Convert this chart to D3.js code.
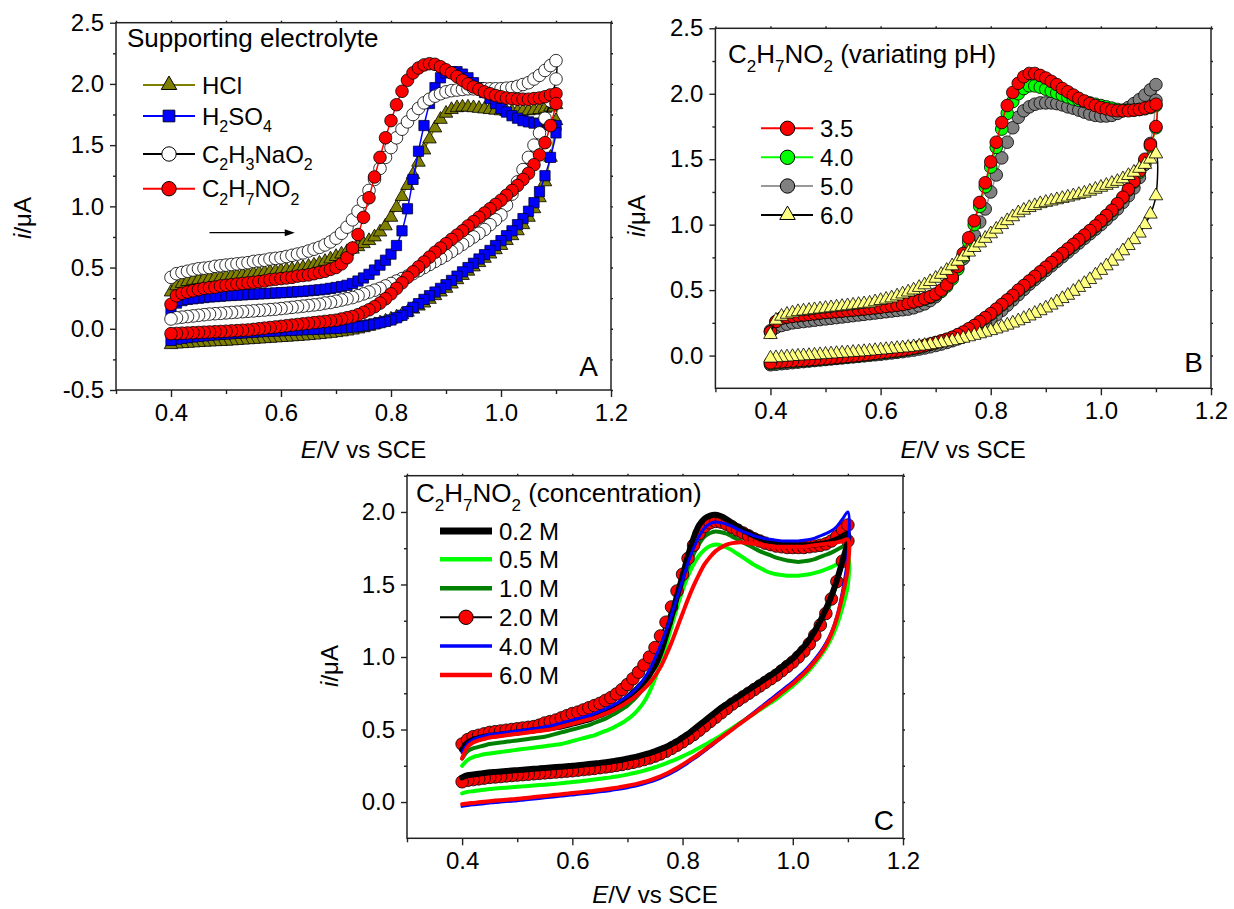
<!DOCTYPE html>
<html>
<head>
<meta charset="utf-8">
<title>Cyclic voltammograms</title>
<script src="https://cdn.jsdelivr.net/npm/d3@7"></script>
<style>
  body { margin: 0; background: #fff; }
  svg { display: block; font-family: "Liberation Sans", Arial, sans-serif; }
</style>
</head>
<body>
<div id="chart"></div>
<script>
// potential grid of every scan, V vs SCE (forward 0.4 -> 1.1, reverse 1.1 -> 0.4)
var potentials = [
  0.40, 0.41, 0.42, 0.43, 0.44, 0.45, 0.46, 0.47, 0.48, 0.49,
  0.50, 0.51, 0.52, 0.53, 0.54, 0.55, 0.56, 0.57, 0.58, 0.59,
  0.60, 0.61, 0.62, 0.63, 0.64, 0.65, 0.66, 0.67, 0.68, 0.69,
  0.70, 0.71, 0.72, 0.73, 0.74, 0.75, 0.76, 0.77, 0.78, 0.79,
  0.80, 0.81, 0.82, 0.83, 0.84, 0.85, 0.86, 0.87, 0.88, 0.89,
  0.90, 0.91, 0.92, 0.93, 0.94, 0.95, 0.96, 0.97, 0.98, 0.99,
  1.00, 1.01, 1.02, 1.03, 1.04, 1.05, 1.06, 1.07, 1.08, 1.09,
  1.10];

var xMajorTicks = [0.4, 0.6, 0.8, 1.0, 1.2];
var xMinorTicks = [0.3, 0.5, 0.7, 0.9, 1.1];
var yMajorA = [-0.5, 0.0, 0.5, 1.0, 1.5, 2.0, 2.5];
var yMajorB = [0.0, 0.5, 1.0, 1.5, 2.0, 2.5];
var yMajorC = [0.0, 0.5, 1.0, 1.5, 2.0];
var yMinorTicks = [-0.25, 0.25, 0.75, 1.25, 1.75, 2.25];

var electrolyteLabels = ["HCl", "H2SO4", "C2H3NaO2", "C2H7NO2"];
var phLabels = ["3.5", "4.0", "5.0", "6.0"];
var concLabels = ["0.2 M", "0.5 M", "1.0 M", "2.0 M", "4.0 M", "6.0 M"];

// ---- panel A: supporting electrolyte (i / uA) ----
var hclForward = [
  0.30, 0.35, 0.37, 0.385, 0.395, 0.40, 0.405, 0.41, 0.415, 0.42,
  0.425, 0.43, 0.435, 0.44, 0.445, 0.45, 0.455, 0.46, 0.465, 0.47,
  0.475, 0.48, 0.485, 0.49, 0.50, 0.51, 0.52, 0.535, 0.55, 0.57,
  0.59, 0.61, 0.63, 0.65, 0.67, 0.695, 0.72, 0.75, 0.79, 0.84,
  0.91, 0.99, 1.08, 1.17, 1.26, 1.36, 1.46, 1.55, 1.64, 1.71,
  1.76, 1.79, 1.805, 1.81, 1.81, 1.805, 1.80, 1.795, 1.79, 1.785,
  1.78, 1.775, 1.775, 1.775, 1.78, 1.78, 1.785, 1.79, 1.80, 1.81,
  1.83];
var hclReverse = [
  -0.13, -0.125, -0.122, -0.119, -0.116, -0.113, -0.11, -0.108, -0.106, -0.104,
  -0.102, -0.099, -0.096, -0.093, -0.09, -0.087, -0.084, -0.081, -0.078, -0.075,
  -0.072, -0.069, -0.066, -0.063, -0.06, -0.056, -0.052, -0.048, -0.043, -0.038,
  -0.032, -0.026, -0.019, -0.011, -0.002, 0.008, 0.02, 0.033, 0.047, 0.062,
  0.078, 0.095, 0.115, 0.135, 0.16, 0.185, 0.21, 0.24, 0.27, 0.30,
  0.33, 0.365, 0.40, 0.435, 0.47, 0.505, 0.54, 0.575, 0.61, 0.645,
  0.68, 0.72, 0.76, 0.80, 0.85, 0.91, 0.98, 1.07, 1.20, 1.40,
  1.70];
var h2so4Forward = [
  0.15, 0.21, 0.23, 0.24, 0.245, 0.25, 0.255, 0.26, 0.263, 0.266,
  0.27, 0.272, 0.275, 0.277, 0.28, 0.282, 0.285, 0.287, 0.29, 0.292,
  0.295, 0.297, 0.30, 0.303, 0.306, 0.31, 0.314, 0.318, 0.323, 0.33,
  0.337, 0.345, 0.355, 0.37, 0.39, 0.415, 0.445, 0.48, 0.52, 0.56,
  0.61, 0.68, 0.80, 0.98, 1.22, 1.45, 1.66, 1.84, 1.97, 2.05,
  2.09, 2.10, 2.10, 2.08, 2.05, 2.01, 1.97, 1.93, 1.88, 1.84,
  1.80, 1.77, 1.74, 1.72, 1.70, 1.69, 1.68, 1.675, 1.67, 1.665,
  1.66];
var h2so4Reverse = [
  -0.095, -0.085, -0.078, -0.072, -0.067, -0.062, -0.058, -0.054, -0.05, -0.046,
  -0.043, -0.04, -0.037, -0.034, -0.031, -0.028, -0.025, -0.022, -0.02, -0.018,
  -0.016, -0.014, -0.012, -0.01, -0.008, -0.006, -0.004, -0.002, 0.0, 0.002,
  0.004, 0.007, 0.01, 0.014, 0.019, 0.025, 0.032, 0.04, 0.05, 0.06,
  0.072, 0.09, 0.11, 0.14, 0.175, 0.205, 0.24, 0.27, 0.30, 0.33,
  0.36, 0.395, 0.43, 0.465, 0.50, 0.535, 0.57, 0.605, 0.64, 0.68,
  0.72, 0.76, 0.80, 0.85, 0.90, 0.96, 1.03, 1.12, 1.25, 1.40,
  1.60];
var naAcForward = [
  0.42, 0.45, 0.46, 0.47, 0.48, 0.49, 0.495, 0.50, 0.51, 0.515,
  0.52, 0.525, 0.53, 0.535, 0.54, 0.55, 0.555, 0.56, 0.57, 0.575,
  0.58, 0.59, 0.60, 0.61, 0.62, 0.635, 0.65, 0.665, 0.685, 0.71,
  0.74, 0.78, 0.83, 0.89, 0.96, 1.04, 1.13, 1.22, 1.31, 1.40,
  1.48, 1.56, 1.63, 1.69, 1.75, 1.80, 1.845, 1.875, 1.90, 1.92,
  1.935, 1.945, 1.95, 1.955, 1.96, 1.96, 1.96, 1.96, 1.96, 1.96,
  1.96, 1.965, 1.97, 1.98, 1.995, 2.01, 2.04, 2.07, 2.11, 2.15,
  2.19];
var naAcReverse = [
  0.08, 0.09, 0.095, 0.10, 0.105, 0.11, 0.115, 0.12, 0.123, 0.126,
  0.13, 0.133, 0.136, 0.14, 0.143, 0.146, 0.15, 0.153, 0.157, 0.16,
  0.165, 0.17, 0.175, 0.18, 0.185, 0.19, 0.195, 0.20, 0.21, 0.215,
  0.225, 0.235, 0.245, 0.255, 0.27, 0.285, 0.30, 0.315, 0.33, 0.35,
  0.37, 0.39, 0.41, 0.43, 0.45, 0.475, 0.50, 0.525, 0.55, 0.575,
  0.60, 0.63, 0.66, 0.69, 0.72, 0.75, 0.78, 0.81, 0.85, 0.89,
  0.93, 1.01, 1.10, 1.20, 1.30, 1.40, 1.50, 1.60, 1.72, 1.86,
  2.04];
var nh4AcForward = [
  0.20, 0.27, 0.29, 0.30, 0.31, 0.32, 0.33, 0.335, 0.34, 0.35,
  0.355, 0.36, 0.365, 0.37, 0.375, 0.38, 0.385, 0.39, 0.40, 0.405,
  0.41, 0.415, 0.42, 0.43, 0.435, 0.44, 0.45, 0.46, 0.47, 0.485,
  0.50, 0.53, 0.58, 0.66, 0.77, 0.91, 1.07, 1.24, 1.40, 1.56,
  1.70, 1.83, 1.94, 2.03, 2.09, 2.13, 2.155, 2.165, 2.16, 2.14,
  2.115, 2.09, 2.06, 2.03, 2.00, 1.975, 1.955, 1.935, 1.92, 1.905,
  1.895, 1.885, 1.88, 1.875, 1.875, 1.875, 1.88, 1.885, 1.895, 1.91,
  1.92];
var nh4AcReverse = [
  -0.04, -0.038, -0.036, -0.034, -0.032, -0.03, -0.028, -0.026, -0.024, -0.022,
  -0.02, -0.017, -0.015, -0.012, -0.01, -0.005, 0.0, 0.005, 0.01, 0.015,
  0.02, 0.025, 0.03, 0.035, 0.04, 0.045, 0.05, 0.055, 0.06, 0.065,
  0.07, 0.08, 0.09, 0.10, 0.115, 0.135, 0.155, 0.18, 0.21, 0.245,
  0.285, 0.33, 0.375, 0.42, 0.465, 0.505, 0.545, 0.585, 0.625, 0.66,
  0.695, 0.73, 0.765, 0.80, 0.84, 0.875, 0.91, 0.945, 0.98, 1.015,
  1.05, 1.09, 1.13, 1.17, 1.22, 1.27, 1.34, 1.42, 1.52, 1.66,
  1.84];

// ---- panel B: C2H7NO2 at different pH ----
var ph35Forward = [
  0.18, 0.26, 0.285, 0.295, 0.30, 0.305, 0.31, 0.315, 0.32, 0.325,
  0.33, 0.333, 0.336, 0.34, 0.344, 0.348, 0.352, 0.356, 0.36, 0.365,
  0.37, 0.375, 0.38, 0.385, 0.39, 0.40, 0.41, 0.42, 0.435, 0.45,
  0.47, 0.50, 0.54, 0.60, 0.68, 0.78, 0.90, 1.03, 1.17, 1.32,
  1.48, 1.63, 1.78, 1.91, 2.01, 2.08, 2.13, 2.155, 2.155, 2.14,
  2.12, 2.095, 2.07, 2.04, 2.015, 1.99, 1.965, 1.945, 1.925, 1.91,
  1.895, 1.885, 1.875, 1.87, 1.87, 1.87, 1.875, 1.88, 1.89, 1.90,
  1.92];
var ph35Reverse = [
  -0.055, -0.05, -0.047, -0.044, -0.041, -0.038, -0.035, -0.032, -0.029, -0.025,
  -0.022, -0.018, -0.014, -0.01, -0.006, -0.002, 0.002, 0.007, 0.012, 0.017,
  0.022, 0.027, 0.032, 0.037, 0.043, 0.05, 0.058, 0.067, 0.077, 0.088,
  0.10, 0.112, 0.125, 0.14, 0.16, 0.18, 0.205, 0.23, 0.26, 0.29,
  0.32, 0.355, 0.39, 0.425, 0.46, 0.50, 0.535, 0.57, 0.605, 0.64,
  0.675, 0.71, 0.745, 0.78, 0.815, 0.85, 0.885, 0.92, 0.955, 0.99,
  1.03, 1.07, 1.11, 1.16, 1.21, 1.27, 1.33, 1.41, 1.50, 1.61,
  1.75];
var ph40Forward = [
  0.18, 0.26, 0.285, 0.295, 0.30, 0.305, 0.31, 0.315, 0.32, 0.325,
  0.33, 0.333, 0.336, 0.34, 0.344, 0.348, 0.352, 0.356, 0.36, 0.365,
  0.37, 0.375, 0.38, 0.385, 0.39, 0.40, 0.41, 0.42, 0.43, 0.445,
  0.465, 0.49, 0.53, 0.585, 0.66, 0.76, 0.87, 1.00, 1.14, 1.29,
  1.44, 1.59, 1.73, 1.85, 1.94, 2.00, 2.04, 2.06, 2.06, 2.05,
  2.035, 2.02, 2.005, 1.99, 1.975, 1.96, 1.95, 1.94, 1.93, 1.92,
  1.91, 1.90, 1.89, 1.88, 1.875, 1.875, 1.875, 1.88, 1.885, 1.895,
  1.91];
var ph40Reverse = [
  -0.06, -0.055, -0.051, -0.048, -0.045, -0.042, -0.039, -0.036, -0.032, -0.028,
  -0.025, -0.021, -0.017, -0.013, -0.009, -0.005, -0.001, 0.004, 0.009, 0.014,
  0.019, 0.024, 0.029, 0.034, 0.04, 0.047, 0.055, 0.064, 0.074, 0.085,
  0.097, 0.109, 0.122, 0.137, 0.156, 0.176, 0.20, 0.225, 0.255, 0.285,
  0.315, 0.35, 0.385, 0.42, 0.455, 0.495, 0.53, 0.565, 0.60, 0.635,
  0.67, 0.705, 0.74, 0.775, 0.81, 0.845, 0.88, 0.915, 0.95, 0.985,
  1.025, 1.065, 1.105, 1.155, 1.205, 1.265, 1.325, 1.40, 1.49, 1.60,
  1.74];
var ph50Forward = [
  0.19, 0.215, 0.23, 0.24, 0.25, 0.255, 0.26, 0.265, 0.27, 0.275,
  0.28, 0.285, 0.29, 0.295, 0.30, 0.305, 0.31, 0.315, 0.32, 0.325,
  0.33, 0.335, 0.34, 0.345, 0.35, 0.355, 0.365, 0.38, 0.395, 0.42,
  0.45, 0.49, 0.54, 0.60, 0.665, 0.74, 0.82, 0.92, 1.02, 1.12,
  1.25, 1.38, 1.51, 1.63, 1.74, 1.82, 1.87, 1.90, 1.92, 1.93,
  1.93, 1.93, 1.925, 1.915, 1.90, 1.89, 1.875, 1.86, 1.845, 1.835,
  1.83, 1.83, 1.835, 1.85, 1.87, 1.895, 1.925, 1.955, 1.99, 2.03,
  2.07];
var ph50Reverse = [
  -0.07, -0.066, -0.062, -0.058, -0.054, -0.05, -0.046, -0.042, -0.038, -0.034,
  -0.03, -0.026, -0.022, -0.018, -0.014, -0.01, -0.006, -0.002, 0.002, 0.006,
  0.01, 0.015, 0.02, 0.025, 0.03, 0.036, 0.042, 0.05, 0.058, 0.067,
  0.077, 0.088, 0.10, 0.113, 0.128, 0.145, 0.165, 0.19, 0.215, 0.245,
  0.275, 0.31, 0.345, 0.385, 0.425, 0.465, 0.505, 0.545, 0.58, 0.615,
  0.65, 0.685, 0.72, 0.755, 0.79, 0.825, 0.86, 0.895, 0.93, 0.965,
  1.00, 1.04, 1.08, 1.12, 1.17, 1.22, 1.28, 1.36, 1.46, 1.62,
  1.95];
var ph60Forward = [
  0.16, 0.27, 0.30, 0.315, 0.325, 0.335, 0.34, 0.345, 0.35, 0.355,
  0.36, 0.365, 0.37, 0.375, 0.38, 0.385, 0.39, 0.395, 0.40, 0.41,
  0.42, 0.43, 0.44, 0.455, 0.47, 0.485, 0.50, 0.52, 0.54, 0.565,
  0.59, 0.62, 0.65, 0.685, 0.72, 0.755, 0.79, 0.825, 0.86, 0.895,
  0.93, 0.965, 1.00, 1.03, 1.06, 1.09, 1.11, 1.13, 1.145, 1.16,
  1.17, 1.18, 1.19, 1.20, 1.21, 1.22, 1.23, 1.24, 1.255, 1.27,
  1.285, 1.30, 1.315, 1.33, 1.35, 1.375, 1.40, 1.43, 1.46, 1.50,
  1.54];
var ph60Reverse = [
  -0.02, -0.017, -0.014, -0.011, -0.008, -0.005, -0.002, 0.0, 0.003, 0.006,
  0.009, 0.012, 0.015, 0.018, 0.021, 0.024, 0.027, 0.03, 0.034, 0.038,
  0.042, 0.046, 0.05, 0.054, 0.058, 0.062, 0.067, 0.072, 0.077, 0.083,
  0.09, 0.097, 0.105, 0.113, 0.122, 0.132, 0.143, 0.154, 0.166, 0.178,
  0.19, 0.203, 0.217, 0.232, 0.248, 0.265, 0.283, 0.302, 0.322, 0.342,
  0.363, 0.385, 0.41, 0.435, 0.46, 0.49, 0.52, 0.55, 0.58, 0.615,
  0.65, 0.685, 0.72, 0.76, 0.80, 0.84, 0.885, 0.935, 1.00, 1.08,
  1.22];

// ---- panel C: C2H7NO2 concentration ----
var c02Forward = [
  0.36, 0.41, 0.43, 0.44, 0.45, 0.455, 0.46, 0.465, 0.47, 0.475,
  0.48, 0.485, 0.49, 0.495, 0.50, 0.505, 0.51, 0.515, 0.52, 0.53,
  0.54, 0.55, 0.56, 0.57, 0.585, 0.60, 0.615, 0.635, 0.66, 0.69,
  0.72, 0.755, 0.79, 0.83, 0.88, 0.94, 1.03, 1.15, 1.28, 1.42,
  1.56, 1.70, 1.82, 1.91, 1.955, 1.975, 1.98, 1.97, 1.95, 1.925,
  1.90, 1.875, 1.855, 1.835, 1.82, 1.805, 1.795, 1.785, 1.78, 1.775,
  1.77, 1.77, 1.77, 1.77, 1.775, 1.78, 1.785, 1.795, 1.81, 1.83,
  1.85];
var c02Reverse = [
  0.17, 0.185, 0.19, 0.195, 0.20, 0.205, 0.208, 0.211, 0.214, 0.217,
  0.22, 0.223, 0.226, 0.229, 0.232, 0.235, 0.238, 0.241, 0.244, 0.247,
  0.25, 0.254, 0.258, 0.262, 0.266, 0.27, 0.275, 0.28, 0.286, 0.292,
  0.30, 0.308, 0.317, 0.327, 0.338, 0.35, 0.365, 0.38, 0.40, 0.42,
  0.445, 0.47, 0.50, 0.53, 0.56, 0.59, 0.62, 0.65, 0.675, 0.70,
  0.725, 0.75, 0.775, 0.80, 0.825, 0.85, 0.875, 0.90, 0.93, 0.96,
  0.99, 1.03, 1.07, 1.12, 1.18, 1.25, 1.33, 1.42, 1.53, 1.66,
  1.80];
var c05Forward = [
  0.25, 0.29, 0.31, 0.32, 0.33, 0.335, 0.34, 0.345, 0.35, 0.355,
  0.36, 0.365, 0.37, 0.375, 0.38, 0.385, 0.39, 0.395, 0.40, 0.41,
  0.42, 0.43, 0.44, 0.45, 0.46, 0.475, 0.49, 0.505, 0.525, 0.545,
  0.57, 0.60, 0.64, 0.69, 0.76, 0.85, 0.96, 1.08, 1.21, 1.34,
  1.46, 1.56, 1.64, 1.70, 1.74, 1.765, 1.775, 1.77, 1.755, 1.735,
  1.71, 1.685, 1.66, 1.635, 1.615, 1.595, 1.58, 1.57, 1.565, 1.56,
  1.56, 1.56, 1.565, 1.57, 1.58, 1.59, 1.605, 1.62, 1.64, 1.665,
  1.69];
var c05Reverse = [
  0.06, 0.07, 0.075, 0.08, 0.085, 0.09, 0.093, 0.096, 0.099, 0.102,
  0.105, 0.108, 0.111, 0.114, 0.117, 0.12, 0.123, 0.126, 0.13, 0.134,
  0.138, 0.142, 0.146, 0.15, 0.155, 0.16, 0.165, 0.17, 0.176, 0.182,
  0.19, 0.198, 0.207, 0.217, 0.228, 0.24, 0.253, 0.267, 0.282, 0.298,
  0.315, 0.333, 0.352, 0.372, 0.393, 0.415, 0.437, 0.46, 0.485, 0.51,
  0.535, 0.56, 0.585, 0.61, 0.635, 0.66, 0.685, 0.71, 0.74, 0.77,
  0.80, 0.835, 0.87, 0.91, 0.955, 1.005, 1.06, 1.13, 1.22, 1.34,
  1.50];
var c10Forward = [
  0.30, 0.35, 0.37, 0.38, 0.39, 0.40, 0.405, 0.41, 0.415, 0.42,
  0.425, 0.43, 0.435, 0.44, 0.445, 0.45, 0.46, 0.47, 0.48, 0.49,
  0.50, 0.51, 0.52, 0.53, 0.545, 0.56, 0.575, 0.595, 0.615, 0.64,
  0.665, 0.70, 0.74, 0.79, 0.86, 0.95, 1.05, 1.16, 1.28, 1.40,
  1.51, 1.62, 1.71, 1.78, 1.83, 1.855, 1.865, 1.86, 1.85, 1.83,
  1.81, 1.79, 1.77, 1.75, 1.73, 1.715, 1.70, 1.685, 1.675, 1.665,
  1.66, 1.655, 1.66, 1.665, 1.675, 1.69, 1.705, 1.72, 1.74, 1.76,
  1.78];
var c10Reverse = [
  0.13, 0.14, 0.145, 0.15, 0.155, 0.16, 0.163, 0.166, 0.17, 0.173,
  0.176, 0.179, 0.182, 0.185, 0.188, 0.191, 0.194, 0.197, 0.20, 0.203,
  0.206, 0.21, 0.214, 0.218, 0.222, 0.227, 0.232, 0.237, 0.243, 0.249,
  0.256, 0.264, 0.273, 0.283, 0.294, 0.307, 0.322, 0.34, 0.36, 0.382,
  0.405, 0.43, 0.455, 0.485, 0.515, 0.545, 0.575, 0.605, 0.635, 0.665,
  0.69, 0.715, 0.74, 0.765, 0.79, 0.815, 0.84, 0.865, 0.895, 0.925,
  0.955, 0.99, 1.03, 1.08, 1.14, 1.21, 1.29, 1.39, 1.51, 1.64,
  1.78];
var c20Forward = [
  0.40, 0.43, 0.45, 0.46, 0.47, 0.48, 0.485, 0.49, 0.495, 0.50,
  0.505, 0.51, 0.515, 0.52, 0.53, 0.545, 0.555, 0.565, 0.58, 0.595,
  0.61, 0.62, 0.635, 0.65, 0.665, 0.68, 0.70, 0.72, 0.745, 0.775,
  0.81, 0.85, 0.895, 0.945, 1.00, 1.065, 1.145, 1.24, 1.345, 1.455,
  1.57, 1.68, 1.77, 1.85, 1.90, 1.925, 1.935, 1.93, 1.915, 1.895,
  1.875, 1.855, 1.835, 1.815, 1.80, 1.785, 1.775, 1.765, 1.76, 1.755,
  1.755, 1.755, 1.755, 1.76, 1.765, 1.77, 1.78, 1.80, 1.83, 1.88,
  1.91];
var c20Reverse = [
  0.14, 0.15, 0.155, 0.16, 0.165, 0.17, 0.173, 0.176, 0.18, 0.183,
  0.186, 0.189, 0.192, 0.195, 0.198, 0.201, 0.204, 0.207, 0.21, 0.213,
  0.216, 0.22, 0.224, 0.228, 0.232, 0.237, 0.242, 0.247, 0.253, 0.259,
  0.266, 0.274, 0.283, 0.293, 0.304, 0.317, 0.332, 0.35, 0.37, 0.392,
  0.415, 0.44, 0.465, 0.495, 0.525, 0.555, 0.585, 0.615, 0.645, 0.675,
  0.70, 0.725, 0.75, 0.775, 0.80, 0.825, 0.85, 0.875, 0.905, 0.935,
  0.965, 1.00, 1.04, 1.09, 1.15, 1.22, 1.30, 1.40, 1.52, 1.66,
  1.80];
var c40Forward = [
  0.34, 0.40, 0.43, 0.445, 0.455, 0.465, 0.47, 0.475, 0.48, 0.485,
  0.49, 0.495, 0.50, 0.505, 0.51, 0.52, 0.525, 0.535, 0.545, 0.555,
  0.565, 0.575, 0.585, 0.595, 0.61, 0.625, 0.64, 0.66, 0.68, 0.705,
  0.73, 0.76, 0.80, 0.85, 0.91, 0.99, 1.08, 1.18, 1.29, 1.41,
  1.53, 1.65, 1.75, 1.83, 1.89, 1.92, 1.93, 1.925, 1.915, 1.90,
  1.88, 1.865, 1.85, 1.835, 1.825, 1.815, 1.81, 1.805, 1.80, 1.80,
  1.80, 1.80, 1.805, 1.81, 1.82, 1.835, 1.85, 1.87, 1.90, 1.95,
  2.00];
var c40Reverse = [
  -0.03, -0.024, -0.019, -0.015, -0.011, -0.007, -0.003, 0.0, 0.003, 0.006,
  0.009, 0.013, 0.017, 0.021, 0.025, 0.029, 0.033, 0.037, 0.041, 0.045,
  0.049, 0.053, 0.057, 0.061, 0.065, 0.07, 0.075, 0.08, 0.086, 0.092,
  0.099, 0.107, 0.116, 0.126, 0.137, 0.15, 0.165, 0.182, 0.201, 0.222,
  0.245, 0.27, 0.296, 0.323, 0.351, 0.38, 0.41, 0.44, 0.47, 0.50,
  0.53, 0.56, 0.59, 0.62, 0.65, 0.68, 0.71, 0.74, 0.77, 0.80,
  0.83, 0.865, 0.90, 0.94, 0.985, 1.035, 1.095, 1.17, 1.28, 1.45,
  1.70];
var c60Forward = [
  0.30, 0.38, 0.41, 0.425, 0.435, 0.445, 0.45, 0.455, 0.46, 0.465,
  0.47, 0.475, 0.48, 0.485, 0.49, 0.495, 0.50, 0.51, 0.52, 0.53,
  0.54, 0.55, 0.56, 0.57, 0.58, 0.595, 0.61, 0.625, 0.645, 0.665,
  0.69, 0.715, 0.745, 0.78, 0.82, 0.87, 0.93, 1.01, 1.10, 1.20,
  1.30, 1.40, 1.49, 1.57, 1.64, 1.69, 1.73, 1.755, 1.775, 1.785,
  1.79, 1.79, 1.785, 1.78, 1.775, 1.77, 1.765, 1.76, 1.76, 1.76,
  1.76, 1.76, 1.76, 1.765, 1.77, 1.775, 1.78, 1.785, 1.79, 1.80,
  1.81];
var c60Reverse = [
  -0.015, -0.01, -0.006, -0.002, 0.002, 0.006, 0.01, 0.013, 0.016, 0.019,
  0.022, 0.026, 0.03, 0.034, 0.038, 0.042, 0.046, 0.05, 0.054, 0.058,
  0.062, 0.066, 0.07, 0.074, 0.078, 0.083, 0.088, 0.093, 0.099, 0.105,
  0.112, 0.12, 0.129, 0.139, 0.15, 0.163, 0.178, 0.195, 0.214, 0.235,
  0.258, 0.282, 0.307, 0.333, 0.36, 0.388, 0.416, 0.444, 0.472, 0.50,
  0.528, 0.556, 0.584, 0.612, 0.64, 0.668, 0.696, 0.725, 0.755, 0.785,
  0.815, 0.85, 0.885, 0.925, 0.97, 1.02, 1.08, 1.16, 1.27, 1.42,
  1.62];

var W = 1234, H = 909;
var axisColor = "#222";
var tickFont = 24, labelFont = 24, titleFont = 26;
var svg = d3.select("#chart").append("svg").attr("width", W).attr("height", H);

var symbols = { circle: d3.symbolCircle, square: d3.symbolSquare, triangle: d3.symbolTriangle };

// chemical formulas get their digits as subscripts
function richText(sel, label, size) {
  var formula = /^[A-Z]/.test(label);
  var shifted = false;
  label.match(/\d+|\D+/g).forEach(function(part) {
    var t = sel.append("tspan").text(part);
    if (formula && /^\d/.test(part)) {
      t.attr("font-size", Math.round(size * 0.66)).attr("dy", size * 0.33);
      shifted = true;
    } else if (shifted) {
      t.attr("dy", -size * 0.33);
      shifted = false;
    }
  });
}

function drawPanel(p) {
  var g = svg.append("g");
  var x = d3.scaleLinear().domain([0.3, 1.2]).range([p.left, p.right]);
  var y = d3.scaleLinear().domain(p.yDomain).range([p.bottom, p.top]);

  function styleAxis(sel) {
    sel.select(".domain").remove();
    sel.selectAll(".tick line").attr("stroke", axisColor).attr("stroke-width", 1.4);
    sel.selectAll(".tick text").attr("fill", "#000").attr("font-size", tickFont)
      .attr("font-family", "Liberation Sans, Arial, sans-serif");
  }

  // bottom axis
  g.append("g").attr("transform", "translate(0," + p.bottom + ")")
    .call(d3.axisBottom(x).tickValues(xMajorTicks).tickSize(7).tickSizeOuter(0)
      .tickFormat(function(d) { return d.toFixed(1); }))
    .call(styleAxis)
    .call(function(s) { s.selectAll(".tick text").attr("y", 31).attr("dy", 0); });
  g.append("g").attr("transform", "translate(0," + p.bottom + ")")
    .call(d3.axisBottom(x).tickValues(xMinorTicks).tickSize(4).tickSizeOuter(0).tickFormat(""))
    .call(styleAxis);

  // left axis
  g.append("g").attr("transform", "translate(" + p.left + ",0)")
    .call(d3.axisLeft(y).tickValues(p.yMajor).tickSize(6).tickSizeOuter(0).tickPadding(6)
      .tickFormat(function(d) { return d.toFixed(1); }))
    .call(styleAxis);
  g.append("g").attr("transform", "translate(" + p.left + ",0)")
    .call(d3.axisLeft(y).tickValues(yMinorTicks.filter(function(v) { return v > p.yDomain[0]; }))
      .tickSize(3).tickSizeOuter(0).tickFormat(""))
    .call(styleAxis);

  // mirrored short ticks on top and right
  g.append("g").attr("transform", "translate(0," + p.top + ")")
    .call(d3.axisTop(x).tickValues(xMajorTicks.concat(xMinorTicks)).tickSize(2).tickSizeOuter(0).tickFormat(""))
    .call(styleAxis);
  g.append("g").attr("transform", "translate(" + p.right + ",0)")
    .call(d3.axisRight(y).tickValues(p.yMajor.concat(yMinorTicks)).tickSize(2).tickSizeOuter(0).tickFormat(""))
    .call(styleAxis);

  // data
  var line = d3.line().x(function(d) { return x(d[0]); }).y(function(d) { return y(d[1]); })
    .curve(d3.curveCatmullRom.alpha(0.5));

  p.series.forEach(function(s) {
    var fwd = potentials.map(function(e, k) { return [e, s.fwd[k]]; });
    var rev = potentials.map(function(e, k) { return [e, s.rev[k]]; }).reverse();
    var pts = fwd.concat(rev);
    g.append("path").datum(pts).attr("d", line)
      .attr("fill", "none").attr("stroke", s.stroke).attr("stroke-width", s.width)
      .attr("stroke-linejoin", "round").attr("stroke-linecap", "round");
    if (s.marker) {
      var sym = d3.symbol().type(symbols[s.marker]).size(s.size)();
      g.append("g").selectAll("path").data(pts).join("path")
        .attr("transform", function(d) { return "translate(" + x(d[0]) + "," + y(d[1]) + ")"; })
        .attr("d", sym).attr("fill", s.fill).attr("stroke", s.edge || "#000").attr("stroke-width", 0.8);
    }
  });

  // frame
  g.append("rect").attr("x", p.left).attr("y", p.top)
    .attr("width", p.right - p.left).attr("height", p.bottom - p.top)
    .attr("fill", "none").attr("stroke", axisColor).attr("stroke-width", 1.5);

  // title inside the frame
  var title = g.append("text").attr("x", p.titleX).attr("y", p.titleY).attr("font-size", titleFont).attr("fill", "#000");
  richText(title, p.title, titleFont);

  // legend
  var lg = p.legend;
  p.series.slice().sort(function(a, b) { return a.order - b.order; }).forEach(function(s, i) {
    var cy = lg.rows[i];
    g.append("line").attr("x1", lg.x0).attr("x2", lg.x1).attr("y1", cy).attr("y2", cy)
      .attr("stroke", s.stroke).attr("stroke-width", s.legendWidth || 2);
    if (s.marker) {
      g.append("path").attr("transform", "translate(" + lg.xm + "," + cy + ")")
        .attr("d", d3.symbol().type(symbols[s.marker]).size(s.size * 1.3)())
        .attr("fill", s.fill).attr("stroke", s.edge || "#000").attr("stroke-width", 1);
    }
    var t = g.append("text").attr("x", lg.xt).attr("y", cy + 8.5).attr("font-size", labelFont).attr("fill", "#000");
    richText(t, s.label, labelFont);
  });

  // panel letter
  g.append("text").attr("x", p.letterX).attr("y", p.letterY).attr("text-anchor", "end")
    .attr("font-size", 28).attr("fill", "#000").text(p.letter);

  // axis titles
  var xt = g.append("text").attr("x", (p.left + p.right) / 2).attr("y", p.xTitleY)
    .attr("text-anchor", "middle").attr("font-size", labelFont).attr("fill", "#000");
  xt.append("tspan").attr("font-style", "italic").text("E");
  xt.append("tspan").text("/V vs SCE");
  var yt = g.append("text").attr("transform", "translate(" + p.yTitleX + "," + p.yTitleY + ") rotate(-90)")
    .attr("text-anchor", "middle").attr("font-size", labelFont).attr("fill", "#000");
  yt.append("tspan").attr("font-style", "italic").text("i");
  yt.append("tspan").text("/\u03bcA");

  return { x: x, y: y, g: g };
}

var panelA = drawPanel({
  left: 116, right: 611, top: 22.7, bottom: 390, yDomain: [-0.5, 2.5], yMajor: yMajorA,
  title: "Supporting electrolyte", titleX: 127, titleY: 47,
  letter: "A", letterX: 598, letterY: 376, xTitleY: 458, yTitleX: 31, yTitleY: 218,
  legend: { rows: [85, 116, 154, 188.7], x0: 143, x1: 195, xm: 169, xt: 202 },
  series: [
    { order: 0, label: electrolyteLabels[0], fwd: hclForward, rev: hclReverse, stroke: "#808000", width: 1.5,
      marker: "triangle", size: 80, fill: "#808000" },
    { order: 1, label: electrolyteLabels[1], fwd: h2so4Forward, rev: h2so4Reverse, stroke: "#0000ff", width: 1.5,
      marker: "square", size: 105, fill: "#0000ff", edge: "#000033" },
    { order: 2, label: electrolyteLabels[2], fwd: naAcForward, rev: naAcReverse, stroke: "#000", width: 1.5,
      marker: "circle", size: 125, fill: "#fff" },
    { order: 3, label: electrolyteLabels[3], fwd: nh4AcForward, rev: nh4AcReverse, stroke: "#ff0000", width: 1.5,
      marker: "circle", size: 125, fill: "#ff0000" }
  ]
});

// direction of the forward scan
var ax = panelA.x, ay = panelA.y;
panelA.g.append("line").attr("x1", ax(0.47)).attr("x2", ax(0.618)).attr("y1", ay(0.785)).attr("y2", ay(0.785))
  .attr("stroke", "#000").attr("stroke-width", 1.3);
panelA.g.append("path")
  .attr("d", "M" + ax(0.625) + "," + ay(0.785) + "l-10,-3.5l0,7z").attr("fill", "#000");

drawPanel({
  left: 715.4, right: 1211, top: 28.3, bottom: 388.3, yDomain: [-0.25, 2.5], yMajor: yMajorB,
  title: "C2H7NO2 (variating pH)", titleX: 728, titleY: 63,
  letter: "B", letterX: 1203, letterY: 372, xTitleY: 458, yTitleX: 645, yTitleY: 216,
  legend: { rows: [128.3, 157.3, 186, 215], x0: 761, x1: 813, xm: 787.5, xt: 820 },
  series: [
    { order: 2, label: phLabels[2], fwd: ph50Forward, rev: ph50Reverse, stroke: "#999999", width: 1.5,
      marker: "circle", size: 125, fill: "#808080" },
    { order: 1, label: phLabels[1], fwd: ph40Forward, rev: ph40Reverse, stroke: "#00ff00", width: 1.5,
      marker: "circle", size: 125, fill: "#00ff00" },
    { order: 0, label: phLabels[0], fwd: ph35Forward, rev: ph35Reverse, stroke: "#ff0000", width: 1.5,
      marker: "circle", size: 125, fill: "#ff0000" },
    { order: 3, label: phLabels[3], fwd: ph60Forward, rev: ph60Reverse, stroke: "#000", width: 1.5,
      marker: "triangle", size: 80, fill: "#ffff80" }
  ]
});

drawPanel({
  left: 407, right: 903, top: 475.7, bottom: 838.3, yDomain: [-0.25, 2.25], yMajor: yMajorC,
  title: "C2H7NO2 (concentration)", titleX: 416, titleY: 502,
  letter: "C", letterX: 894, letterY: 830, xTitleY: 903, yTitleX: 338, yTitleY: 666,
  legend: { rows: [531, 559.3, 588.3, 617.3, 646, 675], x0: 440, x1: 492, xm: 466, xt: 499 },
  series: [
    { order: 1, label: concLabels[1], fwd: c05Forward, rev: c05Reverse, stroke: "#00ff00", width: 4, legendWidth: 4.5 },
    { order: 2, label: concLabels[2], fwd: c10Forward, rev: c10Reverse, stroke: "#008000", width: 4, legendWidth: 4.5 },
    { order: 3, label: concLabels[3], fwd: c20Forward, rev: c20Reverse, stroke: "#000", width: 1.5, legendWidth: 2,
      marker: "circle", size: 125, fill: "#ff0000" },
    { order: 0, label: concLabels[0], fwd: c02Forward, rev: c02Reverse, stroke: "#000", width: 6, legendWidth: 7 },
    { order: 4, label: concLabels[4], fwd: c40Forward, rev: c40Reverse, stroke: "#0000ff", width: 3, legendWidth: 3.5 },
    { order: 5, label: concLabels[5], fwd: c60Forward, rev: c60Reverse, stroke: "#ff0000", width: 4, legendWidth: 4.5 }
  ]
});
</script>
</body>
</html>
